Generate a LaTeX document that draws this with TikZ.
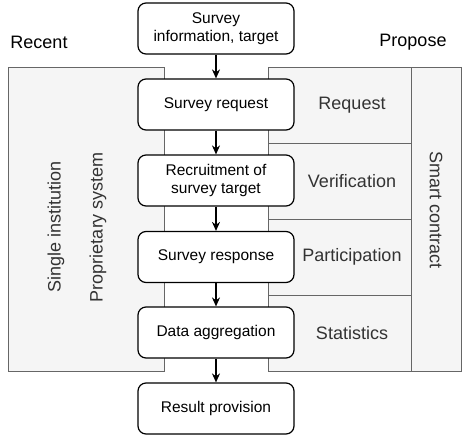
\documentclass[tikz,border=0pt]{standalone}
\usepackage{fontspec}
\setmainfont{Liberation Sans}
\usepackage{xcolor}
\usepackage{tikz}
\usetikzlibrary{arrows.meta}
\definecolor{panelfill}{HTML}{F5F5F5}
\definecolor{panelline}{HTML}{666666}
\definecolor{labeltext}{HTML}{333333}

\begin{document}
\begin{tikzpicture}[x=1pt,y=-1pt,
    flowbox/.style={draw, line width=1.2pt, rounded corners=8pt, fill=white,
        minimum width=156pt, minimum height=51pt, align=center, inner sep=2pt,
        font=\fontsize{15.5}{18}\selectfont},
    flowarrow/.style={line width=1.2pt, -{Stealth[length=9pt,width=8pt]}},
    panel/.style={draw=panelline, fill=panelfill, line width=1pt},
    sidelabel/.style={text=labeltext, font=\fontsize{18}{21}\selectfont},
    headlabel/.style={text=black, font=\fontsize{18}{21}\selectfont}]
                \useasboundingbox (0,0) rectangle (466,437);
                % Recent / Propose panels
                \draw[panel] (8,67) rectangle (164,371);
                \draw[panel] (268,67) rectangle (461,371);
                \draw[panelline, line width=1pt] (411,67) -- (411,371);
                \foreach \y in {143, 219, 295} {
                    \draw[panelline, line width=1pt] (268,\y) -- (411,\y);
                }
                \node[headlabel] (recent) at (39,42) {Recent};
                \node[headlabel] (propose) at (413,42) {Propose};
                \node[sidelabel, rotate=90] (single) at (56,227) {Single institution};
                \node[sidelabel, rotate=90] (proprietary) at (98,227) {Proprietary system};
                \node[sidelabel, rotate=-90] (smart) at (436,210) {Smart contract};
                \foreach \t/\y [count=\i] in {Request/105, Verification/181, Participation/257, Statistics/333} {
                    \node[sidelabel] (row\i) at (352,\y) {\t};
                }
                % Flow
                \node[flowbox] (info) at (216,28.5) {Survey\\information, target};
                \node[flowbox] (request) at (216,104.5) {Survey request};
                \node[flowbox] (recruit) at (216,180.5) {Recruitment of\\survey target};
                \node[flowbox] (response) at (216,257) {Survey response};
                \node[flowbox] (aggregate) at (216,332.5) {Data aggregation};
                \node[flowbox] (result) at (216,408.5) {Result provision};
                \foreach \a/\b in {info/request, request/recruit, recruit/response, response/aggregate, aggregate/result} {
                    \draw[flowarrow] (\a) -- (\b);
                }
            \end{tikzpicture}
\end{document}
